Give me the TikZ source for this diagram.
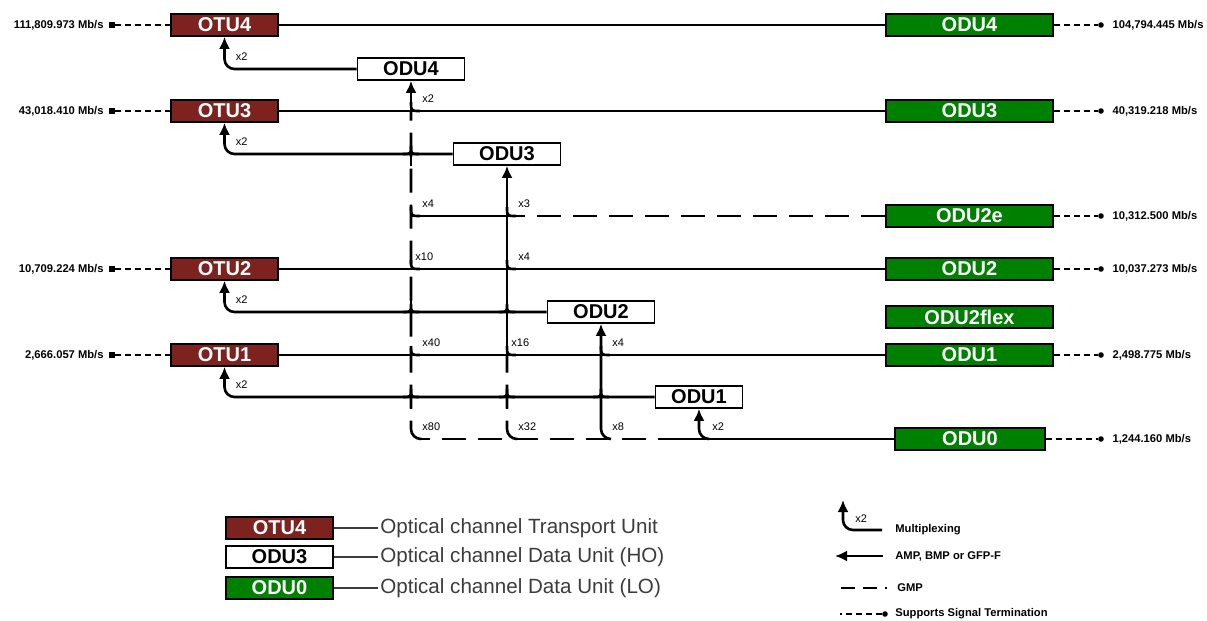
\documentclass[tikz,border=0pt]{standalone}
\usepackage{fontspec}
\setmainfont{Liberation Sans}
\setsansfont{Liberation Sans}
\usetikzlibrary{arrows.meta,calc,positioning}
\definecolor{OtuClr}{RGB}{125,34,30}
\definecolor{LoClr}{RGB}{0,128,0}
\definecolor{LegendClr}{RGB}{60,60,60}

\begin{document}
\begin{tikzpicture}[x=0.5pt,y=-0.5pt,
  box/.style={draw=black,line width=0.8pt,minimum height=11pt,inner sep=0pt,font=\bfseries\fontsize{10}{10}\selectfont},
  otu/.style={box,fill=OtuClr,text=white,minimum width=53.5pt},
  ho/.style={box,fill=white,text=black,minimum width=53.5pt},
  lo/.style={box,fill=LoClr,text=white,minimum width=83.5pt},
  wire/.style={line width=1.3pt},
  gmp/.style={wire,dash pattern=on 12pt off 6pt},
  up/.style={-{Latex[length=6pt,width=5.5pt]}},
  term/.style={line width=0.6pt,dash pattern=on 3pt off 2pt},
  rate/.style={font=\bfseries\fontsize{5.6}{6}\selectfont,inner sep=1pt},
  mult/.style={font=\fontsize{5.5}{6}\selectfont,inner sep=0pt,anchor=west},
  legend/.style={font=\fontsize{10.3}{11}\selectfont,text=LegendClr,inner sep=1pt,anchor=west},
  sq/.style={fill=black,inner sep=0pt,minimum size=2.6pt},
  dot/.style={circle,fill=black,inner sep=0pt,minimum size=2.8pt}]

\useasboundingbox (0,0) rectangle (1207,621);

\node[otu] (otu4) at (224.5,25) {OTU4};
\node[otu] (otu3) at (224.5,111) {OTU3};
\node[otu] (otu2) at (224.5,269) {OTU2};
\node[otu] (otu1) at (224.5,355) {OTU1};

\node[ho] (odu4w) at (411,69) {ODU4};
\node[ho] (odu3w) at (507,154) {ODU3};
\node[ho] (odu2w) at (601,312) {ODU2};
\node[ho,minimum width=43.5pt] (odu1w) at (699,397) {ODU1};

\node[lo] (odu4g) at (969.5,25) {ODU4};
\node[lo] (odu3g) at (969.5,111) {ODU3};
\node[lo] (odu2eg) at (969.5,216) {ODU2e};
\node[lo] (odu2g) at (969.5,269) {ODU2};
\node[lo] (odu2fg) at (969.5,317) {ODU2flex};
\node[lo] (odu1g) at (969.5,355) {ODU1};
\node[lo,minimum width=75pt] (odu0g) at (970,439) {ODU0};

% signal termination
\node[sq] (t4) at (112,25) {};
\node[sq] (t3) at (112,111) {};
\node[sq] (t2) at (112,269) {};
\node[sq] (t1) at (112,355) {};
\node[rate,left=1.5pt of t4] {111,809.973 Mb/s};
\node[rate,left=1.5pt of t3] {43,018.410 Mb/s};
\node[rate,left=1.5pt of t2] {10,709.224 Mb/s};
\node[rate,left=1.5pt of t1] {2,666.057 Mb/s};
\draw[term] (t4) -- (otu4);
\draw[term] (t3) -- (otu3);
\draw[term] (t2) -- (otu2);
\draw[term] (t1) -- (otu1);

\node[dot] (s4) at (1101,25) {};
\node[dot] (s3) at (1101,111) {};
\node[dot] (s2e) at (1101,216) {};
\node[dot] (s2) at (1101,269) {};
\node[dot] (s1) at (1101,355) {};
\node[dot] (s0) at (1101,439) {};
\node[rate,right=3pt of s4] {104,794.445 Mb/s};
\node[rate,right=3pt of s3] {40,319.218 Mb/s};
\node[rate,right=3pt of s2e] {10,312.500 Mb/s};
\node[rate,right=3pt of s2] {10,037.273 Mb/s};
\node[rate,right=3pt of s1] {2,498.775 Mb/s};
\node[rate,right=3pt of s0] {1,244.160 Mb/s};
\draw[term] (odu4g) -- (s4);
\draw[term] (odu3g) -- (s3);
\draw[term] (odu2eg) -- (s2e);
\draw[term] (odu2g) -- (s2);
\draw[term] (odu1g) -- (s1);
\draw[term] (odu0g) -- (s0);

% junctions
\coordinate (a4) at (odu4w.south |- otu3.east);
\coordinate (e4) at (odu4w.south |- odu2eg.west);
\coordinate (c4) at (odu4w.south |- odu2g.west);
\coordinate (d4) at (odu4w.south |- odu1g.west);
\coordinate (z4) at (odu4w.south |- odu0g.west);
\coordinate (e3) at (odu3w.south |- odu2eg.west);
\coordinate (c3) at (odu3w.south |- odu2g.west);
\coordinate (d3) at (odu3w.south |- odu1g.west);
\coordinate (z3) at (odu3w.south |- odu0g.west);
\coordinate (d2) at (odu2w.south |- odu1g.west);
\coordinate (z2) at (odu2w.south |- odu0g.west);
\coordinate (z1) at (odu1w.south |- odu0g.west);
\coordinate (k43) at (odu4w.south |- odu3w.west);
\coordinate (k42) at (odu4w.south |- odu2w.west);
\coordinate (k41) at (odu4w.south |- odu1w.west);
\coordinate (k32) at (odu3w.south |- odu2w.west);
\coordinate (k31) at (odu3w.south |- odu1w.west);
\coordinate (k21) at (odu2w.south |- odu1w.west);

% lines
\draw[wire] (otu4) -- (odu4g);
\draw[wire] (otu3) -- (odu3g);
\draw[wire] (otu2) -- (odu2g);
\draw[wire] (otu1) -- (odu1g);
\draw[gmp] (odu2eg) -- (e3);
\draw[wire] (e3) -- (e4);
\draw[wire] (odu0g) -- ($(z1)+(-17,0)$);
\draw[gmp] ($(z1)+(-17,0)$) -- ($(z4)+(10,0)$);

\draw[wire,up,rounded corners=5pt] (odu4w) -| (otu4);
\draw[wire,up,rounded corners=5pt] (odu3w) -| (otu3);
\draw[wire,up,rounded corners=5pt] (odu2w) -| (otu2);
\draw[wire,up,rounded corners=5pt] (odu1w) -| (otu1);

\draw[gmp,rounded corners=5pt] ($(z4)+(10,0)$) -| (a4);
\draw[wire,up] (a4) -- (odu4w);
\draw[gmp,rounded corners=5pt] ($(z3)+(10,0)$) -| (d3);
\draw[wire,up] (d3) -- (odu3w);
\draw[wire,up,rounded corners=5pt] ($(z2)+(10,0)$) -| (odu2w);
\draw[wire,up,rounded corners=5pt] ($(z1)+(10,0)$) -| (odu1w);

% multiplexing branches
\draw[wire] ($(a4)+(9,0)$) .. controls (a4) .. ($(a4)+(0,-9)$)
  ($(e4)+(9,0)$) .. controls (e4) .. ($(e4)+(0,-9)$)
  ($(c4)+(9,0)$) .. controls (c4) .. ($(c4)+(0,-9)$)
  ($(d4)+(9,0)$) .. controls (d4) .. ($(d4)+(0,-9)$)
  ($(e3)+(9,0)$) .. controls (e3) .. ($(e3)+(0,-9)$)
  ($(c3)+(9,0)$) .. controls (c3) .. ($(c3)+(0,-9)$)
  ($(d3)+(9,0)$) .. controls (d3) .. ($(d3)+(0,-9)$)
  ($(d2)+(9,0)$) .. controls (d2) .. ($(d2)+(0,-9)$);

% crossings
\draw[wire] ($(k43)+(-8,0)$) .. controls (k43) .. ($(k43)+(0,-8)$) .. controls (k43) .. ($(k43)+(8,0)$)
  ($(k42)+(-8,0)$) .. controls (k42) .. ($(k42)+(0,-8)$) .. controls (k42) .. ($(k42)+(8,0)$)
  ($(k41)+(-8,0)$) .. controls (k41) .. ($(k41)+(0,-8)$) .. controls (k41) .. ($(k41)+(8,0)$)
  ($(k32)+(-8,0)$) .. controls (k32) .. ($(k32)+(0,-8)$) .. controls (k32) .. ($(k32)+(8,0)$)
  ($(k31)+(-8,0)$) .. controls (k31) .. ($(k31)+(0,-8)$) .. controls (k31) .. ($(k31)+(8,0)$)
  ($(k21)+(-8,0)$) .. controls (k21) .. ($(k21)+(0,-8)$) .. controls (k21) .. ($(k21)+(8,0)$);
\draw[wire] ($(k43)+(0,-12)$) -- ($(k43)+(0,12)$)
  ($(k42)+(0,-12)$) -- ($(k42)+(0,12)$)
  ($(k41)+(0,-12)$) -- ($(k41)+(0,12)$)
  ($(k31)+(0,-12)$) -- ($(k31)+(0,12)$);

\node[mult] at ($(a4)+(11,-12)$) {x2};
\node[mult] at ($(e4)+(11,-12)$) {x4};
\node[mult] at ($(c4)+(4,-12)$) {x10};
\node[mult] at ($(d4)+(11,-12)$) {x40};
\node[mult] at ($(z4)+(11,-12)$) {x80};
\node[mult] at ($(e3)+(11,-12)$) {x3};
\node[mult] at ($(c3)+(11,-12)$) {x4};
\node[mult] at ($(d3)+(4,-12)$) {x16};
\node[mult] at ($(z3)+(11,-12)$) {x32};
\node[mult] at ($(d2)+(11,-12)$) {x4};
\node[mult] at ($(z2)+(11,-12)$) {x8};
\node[mult] at ($(z1)+(13,-12)$) {x2};
\node[mult] at ($(otu4.south |- odu4w.west)+(11,-12)$) {x2};
\node[mult] at ($(otu3.south |- odu3w.west)+(11,-12)$) {x2};
\node[mult] at ($(otu2.south |- odu2w.west)+(11,-12)$) {x2};
\node[mult] at ($(otu1.south |- odu1w.west)+(11,-12)$) {x2};

% legend
\node[otu] (lg1) at (279.5,528) {OTU4};
\node[ho] (lg2) at (279.5,557) {ODU3};
\node[lo,minimum width=53.5pt] (lg3) at (279.5,588) {ODU0};
\node[legend] (lt1) at (378,528) {Optical channel Transport Unit};
\node[legend] (lt2) at (378,557) {Optical channel Data Unit (HO)};
\node[legend] (lt3) at (378,588) {Optical channel Data Unit (LO)};
\draw[LegendClr,line width=0.8pt] (lg1) -- (lt1);
\draw[LegendClr,line width=0.8pt] (lg2) -- (lt2);
\draw[LegendClr,line width=0.8pt] (lg3) -- (lt3);

\node[rate,anchor=west] (lm) at (893,530) {Multiplexing};
\node[rate,anchor=west] (la) at (893,556) {AMP, BMP or GFP-F};
\node[rate,anchor=west] (lp) at (895,588) {GMP};
\node[rate,anchor=west] (ls) at (893,614) {Supports Signal Termination};
\coordinate (lmt) at (843,500);
\draw[wire,up,rounded corners=5pt] ($(lm.west)+(-11,0)$) -| (lmt);
\node[mult] at (855,519) {x2};
\draw[wire,up] ($(la.west)+(-10,0)$) -- ++(-48,0);
\draw[wire,dash pattern=on 7pt off 4pt] ($(lp.west)+(-54,0)$) -- ++(46,0);
\node[dot] (ld) at (885,614) {};
\draw[term] (ld) -- ++(-45,0);

\end{tikzpicture}
\end{document}
